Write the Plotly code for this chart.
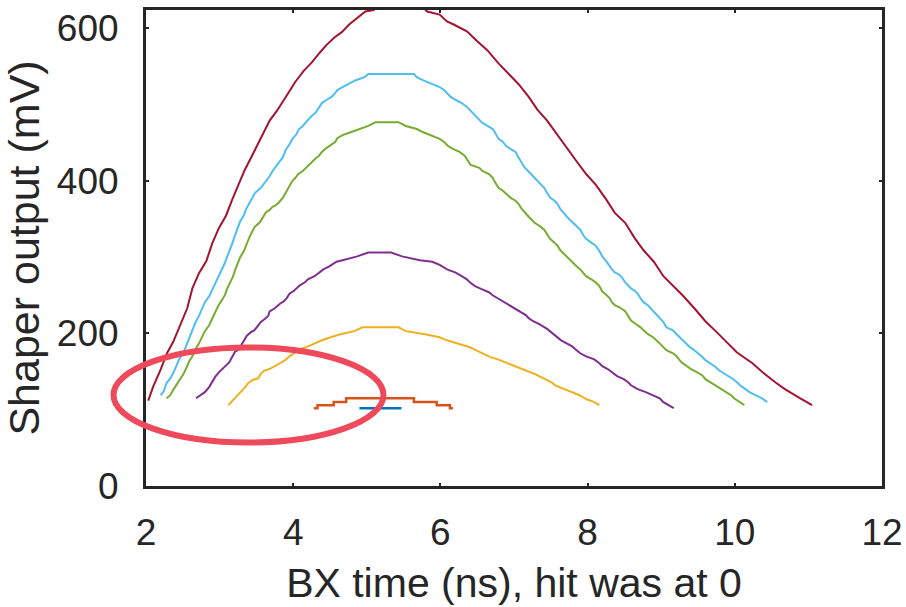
import plotly.graph_objects as go

# ---- data ----
x_maroon = [2.03, 2.10, 2.20, 2.28, 2.37, 2.47, 2.56, 2.63, 2.72, 2.82, 2.90, 2.99, 3.09, 3.17, 3.25,
            3.34, 3.43, 3.51, 3.59, 3.68, 3.78, 3.86, 3.95, 4.03, 4.14, 4.25, 4.36, 4.45, 4.56, 4.66,
            4.76, 4.87, 4.98, 5.09, 5.12, 5.78, 5.82, 5.99, 6.09, 6.18, 6.36, 6.49, 6.64, 6.79, 6.93,
            7.06, 7.20, 7.32, 7.45, 7.59, 7.72, 7.84, 7.98, 8.11, 8.25, 8.37, 8.51, 8.64, 8.76, 8.90,
            9.03, 9.17, 9.29, 9.45, 9.60, 9.74, 9.87, 10.03, 10.24, 10.39, 10.55, 10.68, 10.89, 11.05]
y_maroon = [112, 131, 153, 173, 189, 211, 233, 259, 279, 295, 318, 338, 355, 375, 393,
            414, 431, 447, 462, 479, 492, 504, 517, 530, 544, 555, 568, 578, 588, 595,
            605, 614, 622, 624, 626, 626, 622, 618, 609, 605, 596, 584, 571, 554, 540,
            527, 510, 493, 479, 460, 443, 427, 409, 395, 376, 358, 345, 325, 309, 294,
            275, 262, 250, 233, 216, 203, 190, 175, 161, 148, 136, 127, 115, 106]

x_lightblue = [2.20, 2.24, 2.28, 2.33, 2.37, 2.41, 2.45, 2.51, 2.55, 2.59, 2.63, 2.67, 2.72, 2.76, 2.80,
               2.86, 2.90, 2.94, 2.98, 3.02, 3.07, 3.10, 3.14, 3.18, 3.21, 3.25, 3.28, 3.33, 3.36, 3.40,
               3.44, 3.48, 3.56, 3.64, 3.68, 3.72, 3.78, 3.82, 3.86, 3.90, 3.95, 3.99, 4.05, 4.07, 4.13,
               4.17, 4.21, 4.25, 4.30, 4.35, 4.39, 4.45, 4.52, 4.57, 4.60, 4.67, 4.76, 4.85, 4.97, 5.02,
               5.64, 5.68, 5.76, 5.89, 5.99, 6.05, 6.10, 6.14, 6.21, 6.29, 6.36, 6.40, 6.45, 6.49, 6.53,
               6.57, 6.64, 6.71, 6.75, 6.79, 6.85, 6.89, 6.95, 7.02, 7.06, 7.10, 7.14, 7.20, 7.24, 7.28,
               7.32, 7.37, 7.41, 7.45, 7.49, 7.55, 7.59, 7.63, 7.67, 7.72, 7.76, 7.80, 7.85, 7.90, 7.94,
               7.98, 8.05, 8.11, 8.16, 8.20, 8.25, 8.30, 8.33, 8.37, 8.43, 8.47, 8.51, 8.55, 8.59, 8.64,
               8.68, 8.72, 8.76, 8.82, 8.86, 8.90, 8.94, 8.99, 9.03, 9.07, 9.16, 9.21, 9.25, 9.29, 9.35,
               9.39, 9.45, 9.52, 9.56, 9.60, 9.67, 9.74, 9.78, 9.85, 9.91, 9.98, 10.03, 10.07, 10.13, 10.20,
               10.28, 10.37, 10.44]
y_lightblue = [119, 124, 135, 141, 148, 157, 166, 175, 185, 195, 206, 214, 223, 232, 241,
               249, 257, 266, 275, 283, 292, 300, 309, 320, 329, 340, 347, 355, 363, 370,
               378, 384, 391, 401, 406, 413, 420, 426, 431, 441, 448, 455, 462, 467, 472,
               477, 481, 485, 489, 496, 502, 506, 510, 515, 519, 523, 527, 532, 536, 540,
               540, 536, 532, 527, 523, 519, 514, 510, 506, 502, 497, 493, 489, 484, 480,
               476, 472, 468, 462, 455, 451, 446, 442, 438, 431, 425, 418, 412, 408, 404,
               399, 395, 391, 384, 378, 374, 370, 363, 358, 353, 349, 345, 340, 336, 329,
               324, 319, 315, 308, 301, 295, 288, 284, 280, 277, 273, 267, 263, 259, 256,
               252, 246, 241, 237, 233, 228, 224, 220, 215, 208, 204, 199, 195, 191, 186,
               182, 178, 173, 169, 165, 161, 156, 152, 148, 144, 140, 136, 132, 128, 123,
               119, 115, 110]

x_green = [2.28, 2.33, 2.37, 2.41, 2.45, 2.51, 2.55, 2.59, 2.63, 2.67, 2.72, 2.76, 2.80, 2.86, 2.90,
           2.94, 2.98, 3.02, 3.07, 3.10, 3.14, 3.18, 3.21, 3.25, 3.28, 3.33, 3.36, 3.40, 3.44, 3.48,
           3.55, 3.59, 3.63, 3.68, 3.72, 3.76, 3.80, 3.86, 3.90, 3.95, 3.99, 4.03, 4.07, 4.13, 4.17,
           4.21, 4.25, 4.30, 4.35, 4.39, 4.45, 4.52, 4.57, 4.60, 4.67, 4.79, 4.90, 5.02, 5.12, 5.43,
           5.53, 5.68, 5.76, 5.89, 5.99, 6.05, 6.10, 6.17, 6.26, 6.33, 6.37, 6.41, 6.53, 6.57, 6.66,
           6.71, 6.75, 6.79, 6.85, 6.89, 6.95, 7.02, 7.06, 7.10, 7.14, 7.20, 7.24, 7.28, 7.36, 7.41,
           7.45, 7.49, 7.55, 7.59, 7.63, 7.67, 7.72, 7.76, 7.80, 7.85, 7.90, 7.94, 7.98, 8.05, 8.11,
           8.16, 8.20, 8.25, 8.30, 8.33, 8.37, 8.44, 8.51, 8.55, 8.59, 8.66, 8.72, 8.76, 8.82, 8.89,
           8.94, 8.99, 9.03, 9.07, 9.16, 9.21, 9.25, 9.29, 9.35, 9.41, 9.49, 9.56, 9.60, 9.67, 9.74,
           9.80, 9.89, 9.95, 9.99, 10.07, 10.13]
y_green = [115, 119, 126, 132, 137, 147, 155, 164, 170, 179, 187, 194, 203, 211, 220,
           228, 236, 242, 250, 258, 266, 274, 283, 292, 300, 308, 316, 325, 333, 340,
           346, 353, 359, 362, 366, 368, 371, 378, 385, 395, 400, 404, 409, 413, 417,
           421, 425, 429, 433, 438, 443, 447, 451, 456, 460, 464, 468, 472, 477, 477,
           472, 468, 464, 459, 455, 451, 446, 442, 438, 433, 427, 421, 417, 413, 409,
           404, 397, 391, 387, 383, 378, 374, 370, 364, 359, 353, 349, 345, 340, 336,
           330, 324, 319, 315, 309, 305, 301, 297, 293, 288, 284, 280, 275, 271, 267,
           262, 255, 251, 246, 241, 237, 234, 229, 223, 217, 212, 208, 204, 199, 195,
           191, 186, 182, 178, 174, 170, 165, 161, 157, 153, 149, 145, 140, 136, 132,
           128, 123, 119, 115, 110, 106]

x_purple = [2.68, 2.75, 2.80, 2.86, 2.90, 2.94, 2.99, 3.03, 3.07, 3.13, 3.17, 3.21, 3.26, 3.33, 3.37,
            3.43, 3.47, 3.52, 3.56, 3.60, 3.66, 3.68, 3.75, 3.82, 3.87, 3.91, 3.95, 4.01, 4.05, 4.09,
            4.16, 4.20, 4.29, 4.36, 4.41, 4.49, 4.59, 4.67, 4.87, 5.02, 5.33, 5.48, 5.72, 5.89, 5.99,
            6.09, 6.20, 6.29, 6.36, 6.40, 6.47, 6.56, 6.66, 6.71, 6.78, 6.87, 6.95, 7.02, 7.09, 7.16,
            7.20, 7.26, 7.35, 7.41, 7.45, 7.64, 7.71, 7.79, 7.85, 7.90, 7.98, 8.09, 8.16, 8.20, 8.28,
            8.33, 8.40, 8.49, 8.55, 8.59, 8.68, 8.79, 8.89, 8.98, 9.03, 9.10, 9.17]
y_purple = [115, 119, 123, 130, 137, 143, 149, 153, 157, 162, 169, 176, 179, 190, 197,
            202, 204, 210, 215, 218, 223, 229, 233, 239, 242, 246, 252, 256, 259, 263,
            267, 271, 275, 280, 284, 288, 294, 296, 301, 306, 306, 301, 296, 294, 290,
            284, 280, 275, 271, 267, 262, 258, 254, 250, 246, 241, 237, 233, 229, 224,
            220, 216, 212, 208, 206, 191, 187, 183, 178, 174, 170, 166, 161, 157, 153,
            149, 144, 140, 136, 132, 127, 123, 119, 115, 110, 106, 102]

x_yellow = [3.12, 3.16, 3.21, 3.25, 3.29, 3.35, 3.39, 3.45, 3.52, 3.56, 3.60, 3.67, 3.75, 3.82, 3.89,
            3.95, 4.01, 4.09, 4.20, 4.29, 4.39, 4.51, 4.64, 4.83, 4.94, 5.43, 5.53, 5.79, 5.99, 6.09,
            6.24, 6.40, 6.48, 6.57, 6.68, 6.78, 6.95, 7.12, 7.28, 7.43, 7.51, 7.56, 7.68, 7.79, 7.89,
            7.98, 8.09, 8.16]
y_yellow = [106, 110, 115, 119, 123, 130, 135, 139, 141, 147, 151, 153, 157, 161, 165,
            170, 174, 179, 183, 187, 191, 195, 199, 203, 208, 208, 203, 199, 195, 191,
            187, 182, 178, 174, 169, 166, 160, 153, 147, 140, 136, 132, 127, 123, 119,
            114, 110, 106]

x_orange = [4.28, 4.33, 4.55, 4.72, 5.64, 5.95, 6.13, 6.17]
y_orange = [102, 106, 110, 115, 110, 106, 102, 102]

x_blue = [4.90, 5.47]
y_blue = [102, 102]

series = [
    ("maroon", x_maroon, y_maroon, "#A2142F", 2, "linear"),
    ("lightblue", x_lightblue, y_lightblue, "#4DBEEE", 2, "linear"),
    ("green", x_green, y_green, "#77AC30", 2, "linear"),
    ("purple", x_purple, y_purple, "#7E2F8E", 2, "linear"),
    ("yellow", x_yellow, y_yellow, "#EDB120", 2, "linear"),
    ("orange", x_orange, y_orange, "#D95319", 2.5, "hv"),
    ("blue", x_blue, y_blue, "#0072BD", 2.5, "linear"),
]

x_ticks = [2, 4, 6, 8, 10, 12]
y_ticks = [0, 200, 400, 600]

fig = go.Figure()
for name, xs, ys, col, w, shape in series:
    fig.add_trace(go.Scatter(x=xs, y=ys, mode="lines", name=name,
                             line=dict(color=col, width=w, shape=shape),
                             showlegend=False, hoverinfo="skip"))

FONT = "Liberation Sans, Arial"
axis_common = dict(showline=True, linewidth=3, linecolor="#262626", mirror="allticks",
                   ticks="inside", ticklen=3, tickwidth=2, tickcolor="#262626",
                   showgrid=False, zeroline=False, layer="below traces", automargin=False,
                   tickfont=dict(family=FONT, size=37, color="#262626"))

fig.update_layout(
    width=906, height=607,
    margin=dict(l=146, r=24, t=10, b=121),
    paper_bgcolor="white", plot_bgcolor="white",
    xaxis=dict(range=[2, 12], tickvals=x_ticks, ticktext=[str(v) for v in x_ticks],
               title=dict(text="BX time (ns), hit was at 0",
                          font=dict(family=FONT, size=41, color="#262626"),
                          standoff=16),
               ticklabelstandoff=12, **axis_common),
    yaxis=dict(range=[0, 624], tickvals=y_ticks, ticktext=[str(v) for v in y_ticks],
               title=dict(text="Shaper output (mV)",
                          font=dict(family=FONT, size=43, color="#262626"),
                          standoff=8),
               ticklabelstandoff=17, **axis_common),
)

# red ellipse annotation (paper coords so it can extend past the axis frame)
fig.add_shape(type="circle", xref="paper", yref="paper",
              x0=(113.5 - 146) / 736, x1=(383.5 - 146) / 736,
              y0=(486 - 442.5) / 476, y1=(486 - 347.5) / 476,
              line=dict(color="#EF4A5B", width=6), fillcolor="rgba(0,0,0,0)", layer="above")

fig.write_html("out.html", config={"displayModeBar": False},
               post_script="document.body.style.margin='0px';")
